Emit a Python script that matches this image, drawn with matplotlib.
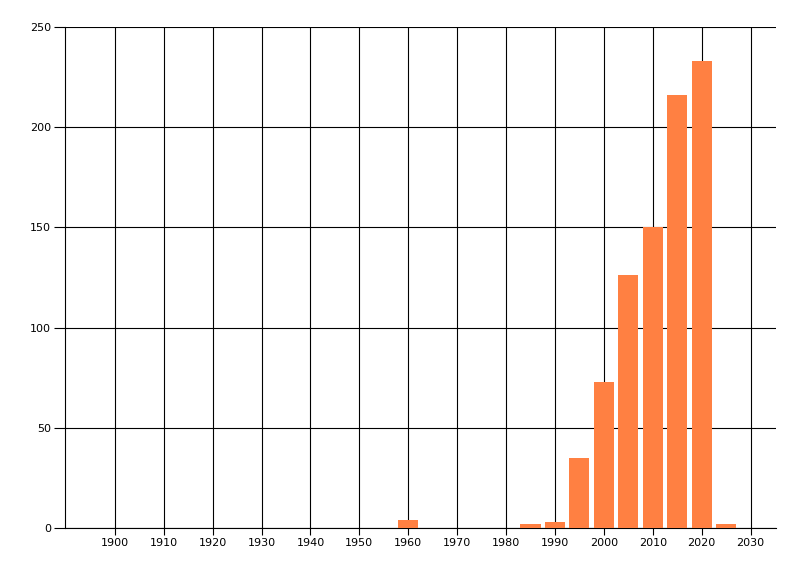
import numpy as np
import matplotlib
matplotlib.use('Agg')
import matplotlib.pyplot as plt

# bar data
years = [1960, 1985, 1990, 1995, 2000, 2005, 2010, 2015, 2020, 2025]
counts = [4, 2, 3, 35, 73, 126, 150, 216, 233, 2]

xticks = list(range(1900, 2031, 10))
yticks = [0, 50, 100, 150, 200, 250]

fig = plt.figure(figsize=(8, 5.76), dpi=100)
ax = fig.add_axes([65/800, 1-528/576, 711/800, 501/576])

ax.bar(years, counts, width=4.1, color='#ff8042', zorder=3)

ax.set_xlim(1889.8, 2035.2)
ax.set_ylim(0, 250)
ax.set_xticks(xticks)
ax.set_yticks(yticks)

ax.grid(True, color='black', linewidth=0.8, zorder=1)
for s in ['top', 'right']:
    ax.spines[s].set_visible(False)
for s in ['left', 'bottom']:
    ax.spines[s].set_linewidth(0.8)

ax.tick_params(axis='both', labelsize=8, width=0.8, length=5, pad=2)
ax.tick_params(axis='y', length=8)

fig.savefig('out.png', dpi=100)
